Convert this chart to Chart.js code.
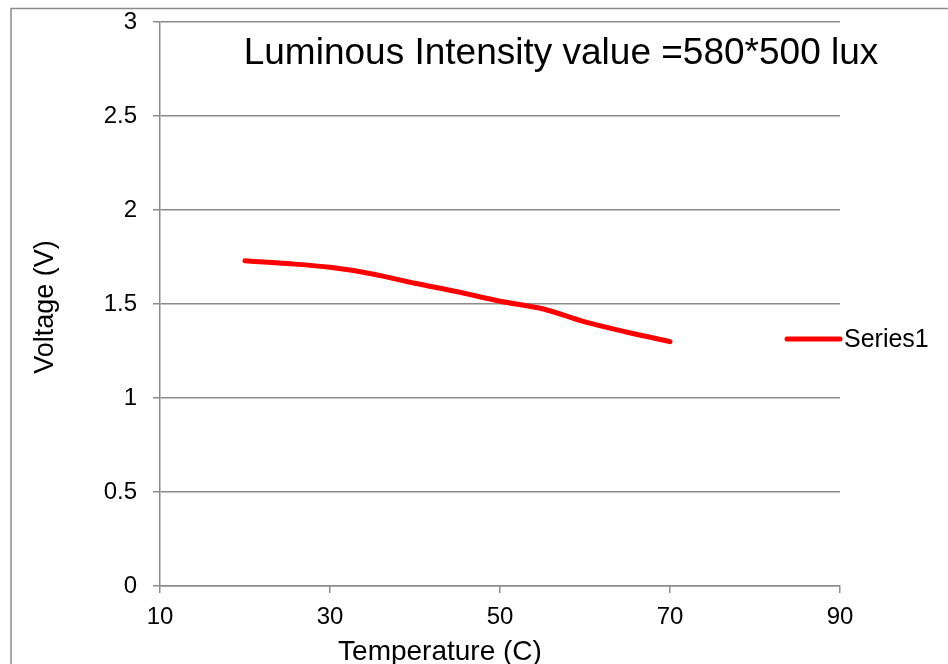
<!DOCTYPE html>
<html>
<head>
<meta charset="utf-8">
<script src="https://cdn.jsdelivr.net/npm/chart.js@4"></script>
<style>
  html, body { margin: 0; padding: 0; background: #fff; }
  #wrap { width: 948px; height: 664px; }
</style>
</head>
<body>
<div id="wrap"><canvas id="voltChart" width="948" height="664"></canvas></div>
<script>
// temperature (C) and voltage (V)
const temps = [20, 25, 30, 35, 40, 45, 50, 55, 60, 65, 70];
const volts = [1.73, 1.715, 1.695, 1.66, 1.61, 1.565, 1.515, 1.475, 1.405, 1.35, 1.30];
const xTicks = [10, 30, 50, 70, 90];
const yTicks = [0, 0.5, 1, 1.5, 2, 2.5, 3];

const seriesName = "Series1";
const titleText = "Luminous Intensity value =580*500 lux";
const xTitle = "Temperature (C)";
const yTitle = "Voltage (V)";
const font = "'Liberation Sans', Arial, sans-serif";
const axisGray = "#8c8c8c";

// extra drawing: frame, title inside plot, axis titles, legend on the right
const decorations = {
    id: 'decorations',
    afterDraw(chart) {
        const ctx = chart.ctx;
        ctx.save();
        // outer frame
        ctx.strokeStyle = "#8c8c8c";
        ctx.lineWidth = 1.5;
        ctx.beginPath();
        ctx.moveTo(11, 700);
        ctx.lineTo(11, 8.5);
        ctx.lineTo(960, 8.5);
        ctx.stroke();
        ctx.fillStyle = "#000";
        // title
        ctx.font = "37px " + font;
        ctx.textAlign = "center";
        ctx.textBaseline = "alphabetic";
        ctx.fillText(titleText, 561, 64);
        // axis titles
        ctx.font = "28px " + font;
        ctx.fillText(xTitle, 440, 660);
        ctx.save();
        ctx.translate(53, 307);
        ctx.rotate(-Math.PI / 2);
        ctx.font = "27px " + font;
        ctx.fillText(yTitle, 0, 0);
        ctx.restore();
        // legend
        const ds = chart.data.datasets[0];
        const ly = 339;
        ctx.strokeStyle = ds.borderColor;
        ctx.lineWidth = 5;
        ctx.lineCap = "round";
        ctx.beginPath();
        ctx.moveTo(787, ly);
        ctx.lineTo(840, ly);
        ctx.stroke();
        ctx.font = "25px " + font;
        ctx.textAlign = "left";
        ctx.textBaseline = "middle";
        ctx.fillText(ds.label, 844, ly + 1);
        ctx.restore();
    }
};

const ctx = document.getElementById('voltChart').getContext('2d');
const voltChart = new Chart(ctx, {
    type: 'line',
    data: {
        datasets: [{
            label: seriesName,
            data: temps.map((t, i) => ({ x: t, y: volts[i] })),
            borderColor: "#ff0000",
            borderWidth: 5,
            borderCapStyle: "round",
            pointRadius: 0,
            cubicInterpolationMode: 'monotone',
            fill: false
        }]
    },
    options: {
        responsive: false,
        animation: false,
        layout: { padding: { top: 22, right: 108, left: 14, bottom: 0 } },
        plugins: {
            legend: { display: false },
            tooltip: { enabled: false }
        },
        scales: {
            x: {
                type: 'linear',
                min: 10,
                max: 90,
                afterBuildTicks(scale) { scale.ticks = xTicks.map(v => ({ value: v })); },
                grid: {
                    drawOnChartArea: false,
                    color: axisGray,
                    lineWidth: 1.5,
                    tickLength: 7
                },
                border: { color: axisGray, width: 1.5 },
                ticks: { color: "#000", font: { family: font, size: 24 }, padding: 10, maxRotation: 0 },
                afterFit(scale) {
                    scale.height = 78;
                    scale.paddingLeft = 0;
                    scale.paddingRight = 0;
                }
            },
            y: {
                min: 0,
                max: 3,
                afterBuildTicks(scale) { scale.ticks = yTicks.map(v => ({ value: v })); },
                grid: {
                    color: axisGray,
                    lineWidth: 1.5,
                    tickLength: 7
                },
                border: { color: axisGray, width: 1.5 },
                ticks: {
                    color: "#000",
                    font: { family: font, size: 24 },
                    padding: 16,
                    callback: v => String(v)
                },
                afterFit(scale) {
                    scale.width = 146;
                    scale.paddingTop = 0;
                    scale.paddingBottom = 0;
                }
            }
        }
    },
    plugins: [decorations]
});
</script>
</body>
</html>
